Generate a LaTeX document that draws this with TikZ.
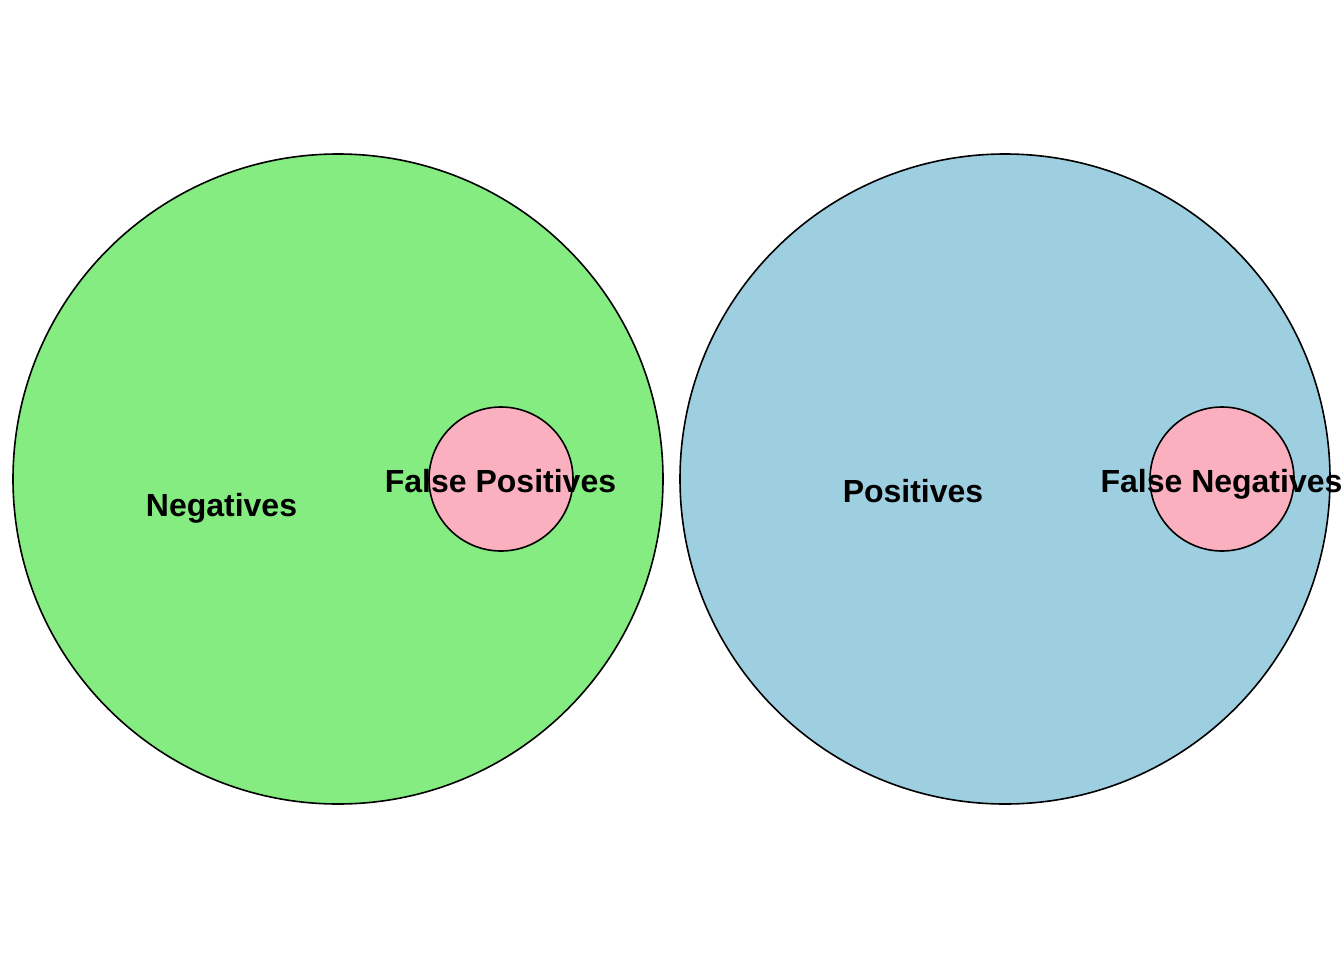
\documentclass[tikz,border=0pt]{standalone}
\usepackage{fontspec}
\setmainfont{Liberation Sans}
\definecolor{negfill}{HTML}{84EC80}
\definecolor{posfill}{HTML}{9ECFE0}
\definecolor{errfill}{HTML}{FBB0C0}
\begin{document}
\begin{tikzpicture}[x=0.75pt,y=-0.75pt,
  setcircle/.style={circle,draw=black,line width=1.2pt,inner sep=0pt},
  bigset/.style={setcircle,minimum size=487.5pt},
  errset/.style={setcircle,minimum size=108pt,fill=errfill},
  setlabel/.style={anchor=base,inner sep=0pt,font=\fontsize{24}{28}\selectfont\bfseries}]
  % canvas
  \fill[white] (0,0) rectangle (1344,960);
  \useasboundingbox (0,0) rectangle (1344,960);
  % outer sets
  \node[bigset,fill=negfill] (neg) at (338,479) {};
  \node[bigset,fill=posfill] (pos) at (1005,479) {};
  % misclassified subsets
  \node[errset] (fp) at (501,479) {};
  \node[errset] (fn) at (1222,479) {};
  % labels
  \node[setlabel] (negl) at (221.5,516) {Negatives};
  \node[setlabel] (posl) at (913,502) {Positives};
  \node[setlabel] (fpl) at (500.5,492) {False Positives};
  \node[setlabel] (fnl) at (1221.5,492) {False Negatives};
\end{tikzpicture}
\end{document}
